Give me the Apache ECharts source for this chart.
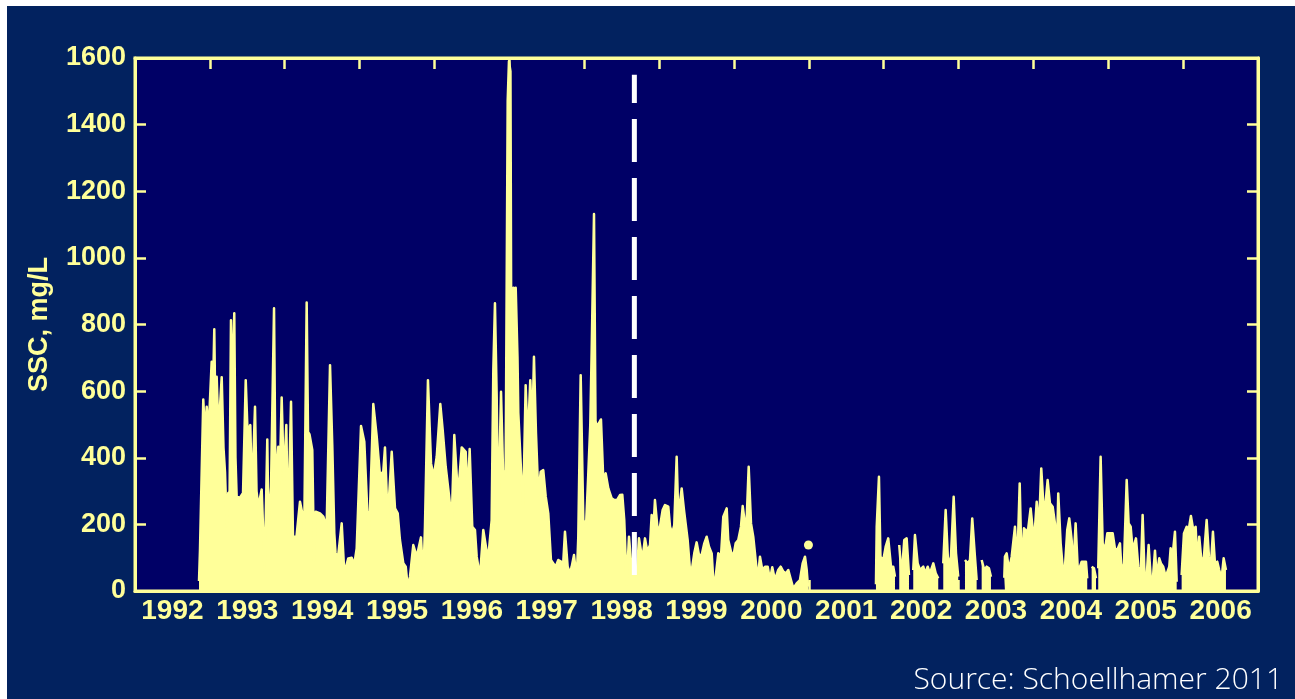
<!DOCTYPE html>
<html>
<head>
<meta charset="utf-8">
<script src="https://cdn.jsdelivr.net/npm/echarts@6/dist/echarts.min.js"></script>
<style>
  html, body { margin: 0; padding: 0; background: #ffffff; }
  #chart { position: absolute; left: 7px; top: 6px; width: 1288px; height: 693px; }
</style>
</head>
<body>
<div id="chart"></div>
<script>
// Suspended-sediment concentration record, decimal year vs mg/L.
// null marks a break in the record.
const yearLabels = ['1992', '1993', '1994', '1995', '1996', '1997', '1998',
  '1999', '2000', '2001', '2002', '2003', '2004', '2005', '2006'];

const ssc1992_1995 = [
  [1992.855, 30], [1992.868, 123], [1992.912, 575], [1992.935, 470], [1992.958, 553], [1992.982, 474],
  [1993.024, 688], [1993.042, 600], [1993.059, 786], [1993.075, 500], [1993.091, 643], [1993.115, 474],
  [1993.158, 642], [1993.182, 430], [1993.202, 358], [1993.225, 193], [1993.246, 294], [1993.262, 250],
  [1993.282, 813], [1993.302, 600], [1993.326, 834], [1993.342, 400], [1993.358, 283], [1993.402, 280],
  [1993.443, 294], [1993.479, 633], [1993.503, 478], [1993.540, 498], [1993.563, 280], [1993.603, 553],
  [1993.623, 300], [1993.647, 253], [1993.692, 305], [1993.710, 193], [1993.730, 60], [1993.743, 180],
  [1993.767, 455], [1993.783, 193], [1993.817, 313], [1993.857, 849], [1993.877, 313], [1993.914, 433],
  [1993.930, 300], [1993.959, 581], [1993.990, 323],
  [1994.021, 498], [1994.044, 174], [1994.084, 568], [1994.110, 163], [1994.157, 163], [1994.204, 268],
  [1994.235, 233], [1994.261, 183], [1994.293, 866], [1994.311, 478], [1994.331, 470], [1994.368, 423],
  [1994.391, 93], [1994.414, 238], [1994.471, 233], [1994.515, 223], [1994.560, 193], [1994.605, 678],
  [1994.635, 438], [1994.662, 174], [1994.678, 115], [1994.711, 100], [1994.761, 203], [1994.796, 53],
  [1994.849, 98], [1994.894, 100], [1994.929, 80], [1994.961, 128],
  [1995.019, 495], [1995.063, 448], [1995.103, 238], [1995.129, 174], [1995.183, 561], [1995.228, 465],
  [1995.272, 348], [1995.316, 358], [1995.339, 431], [1995.375, 213], [1995.429, 418], [1995.473, 248],
  [1995.509, 233], [1995.539, 153], [1995.584, 83], [1995.616, 73], [1995.642, 13], [1995.673, 43],
  [1995.717, 138], [1995.763, 103], [1995.820, 161], [1995.851, 33], [1995.873, 193], [1995.913, 633],
  [1995.954, 383], [1995.990, 343]
];

const ssc1996_1998 = [
  [1996.030, 403], [1996.078, 561], [1996.110, 483], [1996.150, 373], [1996.194, 288], [1996.230, 208],
  [1996.265, 468], [1996.301, 333], [1996.328, 323], [1996.364, 431], [1996.417, 418], [1996.444, 280],
  [1996.470, 426], [1996.505, 193], [1996.541, 183], [1996.564, 103], [1996.608, 43], [1996.652, 183],
  [1996.698, 118], [1996.728, 123], [1996.764, 213], [1996.786, 663], [1996.808, 864], [1996.831, 583],
  [1996.852, 213], [1996.889, 598], [1996.919, 333], [1996.951, 363], [1996.978, 1471], [1996.995, 1590],
  [1997.015, 1560], [1997.026, 742], [1997.039, 860], [1997.055, 910], [1997.069, 744], [1997.085, 910],
  [1997.109, 700], [1997.120, 534], [1997.156, 363], [1997.186, 253], [1997.218, 618], [1997.245, 443],
  [1997.280, 633], [1997.307, 478], [1997.329, 703], [1997.356, 473], [1997.387, 288], [1997.419, 358],
  [1997.453, 363], [1997.486, 283], [1997.520, 233], [1997.556, 93], [1997.587, 83], [1997.619, 73],
  [1997.654, 93], [1997.690, 88], [1997.717, 73], [1997.743, 178], [1997.779, 73], [1997.810, 53],
  [1997.833, 73], [1997.864, 108], [1997.900, 33], [1997.921, 163], [1997.953, 648], [1997.988, 213],
  [1998.024, 193], [1998.054, 348], [1998.081, 498], [1998.100, 723], [1998.131, 1132], [1998.151, 510],
  [1998.171, 493], [1998.224, 515], [1998.255, 333], [1998.287, 353], [1998.322, 308], [1998.367, 278],
  [1998.402, 273], [1998.438, 273], [1998.478, 288], [1998.509, 289], [1998.535, 213], [1998.567, 18],
  [1998.598, 163], [1998.634, 63], [1998.665, 63], [1998.705, 60], [1998.732, 158], [1998.776, 93],
  [1998.812, 158], [1998.843, 118], [1998.879, 138], [1998.901, 228], [1998.923, 178], [1998.945, 273],
  [1998.981, 183]
];

const ssc1999_2000 = [
  [1999.012, 193], [1999.048, 243], [1999.079, 258], [1999.123, 253], [1999.146, 193], [1999.176, 173],
  [1999.203, 198], [1999.235, 403], [1999.257, 223], [1999.279, 218], [1999.302, 308], [1999.333, 243],
  [1999.355, 238], [1999.382, 153], [1999.413, 63], [1999.444, 73], [1999.470, 113], [1999.502, 146],
  [1999.533, 108], [1999.569, 108], [1999.604, 143], [1999.636, 163], [1999.667, 133], [1999.703, 113],
  [1999.724, 33], [1999.756, 43], [1999.791, 113], [1999.827, 103], [1999.858, 223], [1999.903, 248],
  [1999.924, 153], [1999.961, 118], [1999.991, 103],
  [2000.023, 143], [2000.058, 153], [2000.094, 193], [2000.117, 255], [2000.147, 203], [2000.170, 213],
  [2000.197, 373], [2000.228, 203], [2000.258, 163], [2000.281, 113], [2000.317, 33], [2000.348, 103],
  [2000.379, 63], [2000.415, 73], [2000.451, 73], [2000.481, 33], [2000.512, 71], [2000.548, 33],
  [2000.592, 63], [2000.624, 73], [2000.659, 58], [2000.695, 53], [2000.726, 63], [2000.762, 33],
  [2000.793, 8], [2000.838, 23], [2000.882, 33], [2000.918, 83], [2000.949, 103], [2000.972, 63],
  [2000.989, 13], [2001.010, null]
];

// lone sample at the turn of 2001
const ssc2001Point = [[2000.995, 138]];

const ssc2002_2003 = [
  [2001.897, 20], [2001.907, 193], [2001.937, 343], [2001.957, 103], [2001.995, 93],
  [2002.027, 133], [2002.061, 158], [2002.098, 73], [2002.128, 73], [2002.151, 43], [2002.177, null],
  [2002.208, 138], [2002.240, 43], [2002.275, 153], [2002.307, 158], [2002.338, 48], [2002.365, null],
  [2002.395, 63], [2002.418, 168], [2002.454, 83], [2002.485, 63], [2002.529, 73], [2002.552, 53],
  [2002.588, 73], [2002.618, 53], [2002.663, 83], [2002.695, 53], [2002.729, 38], [2002.765, null],
  [2002.796, 83], [2002.828, 243], [2002.863, 73], [2002.899, 103], [2002.935, 283], [2002.966, 113],
  [2002.996, 43], [2003.032, null],
  [2003.086, 93], [2003.122, 83], [2003.153, 93], [2003.183, 218], [2003.219, 103], [2003.242, 33],
  [2003.273, null],
  [2003.309, 93], [2003.344, 63], [2003.376, 73], [2003.406, 68], [2003.433, 43], [2003.527, null],
  [2003.611, 40], [2003.620, 103], [2003.643, 113], [2003.674, 63], [2003.710, 103], [2003.754, 193],
  [2003.784, 73], [2003.817, 323], [2003.843, 63], [2003.874, 188], [2003.910, 178], [2003.931, 188],
  [2003.963, 248], [2003.990, 188]
];

const ssc2004_2006 = [
  [2004.021, 188], [2004.044, 268], [2004.074, 188], [2004.105, 368], [2004.132, 263], [2004.158, 253],
  [2004.190, 333], [2004.221, 263], [2004.257, 253], [2004.288, 203], [2004.311, 83], [2004.332, 293],
  [2004.364, 143], [2004.391, 73], [2004.422, 73], [2004.452, 183], [2004.479, 218], [2004.511, 153],
  [2004.532, 63], [2004.564, 203], [2004.591, 73], [2004.622, 73], [2004.645, 88], [2004.675, 88],
  [2004.702, 88], [2004.719, 38], [2004.749, null],
  [2004.778, 73], [2004.809, 68], [2004.836, 38], [2004.852, null],
  [2004.866, 68], [2004.898, 403], [2004.925, 143], [2004.956, 123], [2004.987, 173],
  [2005.023, 173], [2005.059, 173], [2005.089, 128], [2005.120, 123], [2005.156, 143], [2005.179, 53],
  [2005.210, 83], [2005.246, 333], [2005.272, 203], [2005.299, 193], [2005.326, 123], [2005.370, 158],
  [2005.401, 73], [2005.433, 43], [2005.459, 228], [2005.486, 38], [2005.513, 43], [2005.539, 138],
  [2005.566, 43], [2005.593, 28], [2005.624, 121], [2005.646, 43], [2005.681, 98], [2005.704, 83],
  [2005.734, 73], [2005.767, 43], [2005.788, 38], [2005.815, 73], [2005.833, 128], [2005.860, 108],
  [2005.891, 178], [2005.914, 28], [2005.945, null],
  [2005.980, 48], [2006.011, 173], [2006.047, 193], [2006.074, 183], [2006.104, 225], [2006.135, 183],
  [2006.167, 193], [2006.189, 83], [2006.215, 163], [2006.247, 83], [2006.278, 103], [2006.314, 213],
  [2006.345, 103], [2006.368, 63], [2006.398, 178], [2006.425, 83], [2006.456, 88], [2006.482, 63],
  [2006.514, 38], [2006.541, 98], [2006.572, 63]
];

// Transition marker: start of the clearer-water period
const transitionLine = [[1998.67, 0], [1998.67, 1550]];

const YELLOW = '#ffff99';
const PLOT_BG = '#000066';
const PAGE_BG = '#02225f';
const FONT = '"Liberation Sans", Arial, Helvetica, sans-serif';

const sscRecord = []
  .concat(ssc1992_1995, ssc1996_1998, ssc1999_2000, ssc2002_2003, ssc2004_2006)
  .map(p => [p[0], p[1] === null ? '-' : p[1]]);

const chart = echarts.init(document.getElementById('chart'), null, { renderer: 'canvas' });

function ticks() {
  return { show: true, inside: true, length: 11, lineStyle: { color: YELLOW, width: 2.5 } };
}
function frameLine() {
  return { show: true, onZero: false, lineStyle: { color: YELLOW, width: 3 } };
}

chart.setOption({
  backgroundColor: PAGE_BG,
  animation: false,
  grid: {
    left: 128, top: 52, right: 37, bottom: 108,
    show: true, backgroundColor: PLOT_BG, borderColor: YELLOW, borderWidth: 3
  },
  xAxis: [
    {
      type: 'value', min: 1992, max: 2007, interval: 1, position: 'bottom',
      axisLine: frameLine(), axisTick: ticks(),
      axisLabel: { show: false }, splitLine: { show: false }
    },
    {
      type: 'value', min: 1992, max: 2007, interval: 1, position: 'top',
      axisLine: frameLine(), axisTick: ticks(),
      axisLabel: { show: false }, splitLine: { show: false }
    },
    {
      // year names sit in the middle of each year
      type: 'value', min: 1992, max: 2007, interval: 0.5, position: 'bottom',
      axisLine: { show: false, onZero: false }, axisTick: { show: false }, splitLine: { show: false },
      axisLabel: {
        show: true, color: YELLOW, fontSize: 28, fontWeight: 'bold', fontFamily: FONT, margin: 6,
        formatter: v => {
          const half = Math.round(v * 2);
          return half % 2 === 1 ? yearLabels[(half - 1) / 2 - 1992] || '' : '';
        }
      }
    }
  ],
  yAxis: [
    {
      type: 'value', min: 0, max: 1600, interval: 200, position: 'left',
      name: 'SSC, mg/L', nameLocation: 'middle', nameGap: 82,
      nameTextStyle: { color: YELLOW, fontSize: 27, fontWeight: 'bold', fontFamily: FONT },
      axisLine: frameLine(), axisTick: ticks(), splitLine: { show: false },
      axisLabel: {
        color: YELLOW, fontSize: 27, fontWeight: 'bold', fontFamily: FONT, margin: 9,
        formatter: v => String(v)
      }
    },
    {
      type: 'value', min: 0, max: 1600, interval: 200, position: 'right',
      axisLine: frameLine(), axisTick: ticks(), splitLine: { show: false },
      axisLabel: { show: false }
    }
  ],
  series: [
    {
      name: 'SSC', type: 'line', xAxisIndex: 0, yAxisIndex: 0,
      data: sscRecord, showSymbol: false, symbol: 'none', connectNulls: false,
      sampling: null, clip: true,
      lineStyle: { color: YELLOW, width: 2.5, join: 'round' },
      areaStyle: { color: YELLOW, opacity: 1 },
      z: 2
    },
    {
      name: 'SSC point', type: 'scatter', xAxisIndex: 0, yAxisIndex: 0,
      data: ssc2001Point, symbol: 'circle', symbolSize: 9,
      itemStyle: { color: YELLOW, opacity: 1 }, z: 3
    },
    {
      name: 'transition', type: 'line', xAxisIndex: 0, yAxisIndex: 0,
      data: transitionLine, symbol: 'none',
      lineStyle: { color: '#ffffff', width: 5, type: [43, 16], dashOffset: 43, cap: 'butt' },
      z: 5
    }
  ],
  graphic: [
    {
      type: 'text', right: 12, top: 659,
      style: {
        text: 'Source: Schoellhamer 2011', fill: '#ffffff',
        font: '300 30px "Open Sans", "Noto Sans", sans-serif'
      }
    }
  ]
});
</script>
</body>
</html>
